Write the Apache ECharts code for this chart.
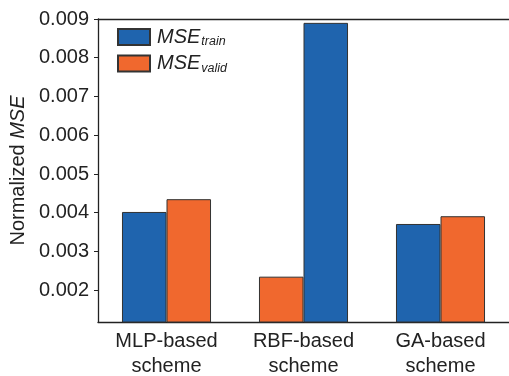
<!DOCTYPE html>
<html>
<head>
<meta charset="utf-8">
<script src="https://cdn.jsdelivr.net/npm/echarts@6/dist/echarts.min.js"></script>
<style>html,body{margin:0;padding:0;background:#fff}#c{width:509px;height:376px}</style>
</head>
<body>
<div id="c"></div>
<script>
const categories = ['MLP-based\nscheme', 'RBF-based\nscheme', 'GA-based\nscheme'];
const mseTrain = [0.00402, 0.00890, 0.00371];
const mseValid = [0.00435, 0.00235, 0.00391];
const trainOnLeft = [true, false, true];
const yTicks = [0.002, 0.003, 0.004, 0.005, 0.006, 0.007, 0.008, 0.009];
const seriesNames = ['train', 'valid'];

const BLUE = '#1f64ae';
const ORANGE = '#f0682e';
const FONT = '"Liberation Sans", Arial, Helvetica, sans-serif';

const leftData = categories.map((c, i) => trainOnLeft[i]
  ? { value: mseTrain[i], itemStyle: { color: BLUE } }
  : { value: mseValid[i], itemStyle: { color: ORANGE } });
const rightData = categories.map((c, i) => trainOnLeft[i]
  ? { value: mseValid[i], itemStyle: { color: ORANGE } }
  : { value: mseTrain[i], itemStyle: { color: BLUE } });

const chart = echarts.init(document.getElementById('c'), null, { renderer: 'canvas' });
chart.setOption({
  animation: false,
  textStyle: { fontFamily: FONT },
  grid: { left: 98, right: 0, top: 19, bottom: 54, containLabel: false, outerBoundsMode: 'none' },
  legend: {
    orient: 'vertical', left: 112, top: 22,
    itemWidth: 32, itemHeight: 16, itemGap: 5,
    icon: 'rect',
    data: seriesNames,
    formatter: n => '{m|MSE}{s|' + n + '}',
    textStyle: {
      padding: [0, 0, 0, 2],
      rich: {
        m: { fontSize: 20, fontStyle: 'italic', color: '#222', fontFamily: FONT },
        s: { fontSize: 12.5, fontStyle: 'italic', color: '#222', fontFamily: FONT, padding: [10, 0, 0, 1] }
      }
    }
  },
  xAxis: [{
    type: 'category', data: categories,
    axisLine: { lineStyle: { color: '#222', width: 1.3 } },
    axisTick: { show: false },
    axisLabel: { fontSize: 20, color: '#222', lineHeight: 25, margin: 7, fontFamily: FONT }
  }, {
    type: 'category', data: categories, position: 'top',
    axisLine: { lineStyle: { color: '#222', width: 1.3 } },
    axisTick: { show: false }, axisLabel: { show: false }
  }],
  yAxis: {
    type: 'value', min: 0.00118, max: 0.009,
    splitLine: { show: false },
    axisLine: { show: true, lineStyle: { color: '#222', width: 1.3 } },
    axisTick: { show: true, inside: false, length: 4, customValues: yTicks, lineStyle: { color: '#222' } },
    axisLabel: { customValues: yTicks, fontSize: 20, color: '#222', margin: 9, fontFamily: FONT,
      formatter: v => v.toFixed(3) },
    name: '{n|Normalized }{i|MSE}',
    nameLocation: 'middle', nameGap: 67, nameRotate: 90,
    nameTextStyle: { rich: {
      n: { fontSize: 20, color: '#222', fontFamily: FONT },
      i: { fontSize: 20, color: '#222', fontStyle: 'italic', fontFamily: FONT }
    } }
  },
  series: [
    { name: 'train', type: 'bar', data: leftData, barGap: '0%', barCategoryGap: '35%',
      itemStyle: { color: BLUE, borderColor: '#333', borderWidth: 1 } },
    { name: 'valid', type: 'bar', data: rightData, barGap: '0%', barCategoryGap: '35%',
      itemStyle: { color: ORANGE, borderColor: '#333', borderWidth: 1 } }
  ]
});
</script>
</body>
</html>
